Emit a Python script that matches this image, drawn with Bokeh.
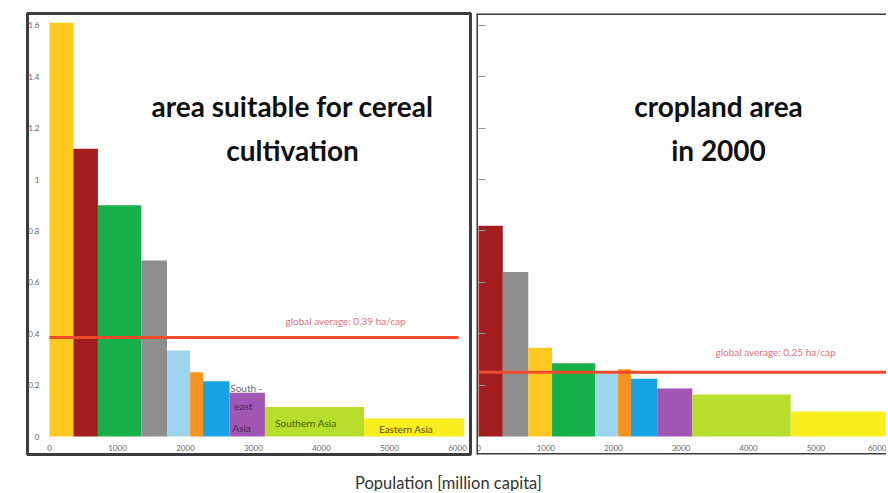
import numpy as np
from bokeh.plotting import figure
from bokeh.layouts import row, column
from bokeh.models import (ColumnDataSource, Range1d, FixedTicker, CustomJSTickFormatter,
                          Span, Label)
from bokeh.core.properties import value
from bokeh.embed import file_html
from bokeh.resources import INLINE

# ---------------- data ----------------
regions = ["Region 1", "Region 2", "Region 3", "Region 4", "Region 5", "Region 6",
           "Region 7", "South-east Asia", "Southern Asia", "Eastern Asia"]
colors = ["#FDC920", "#A31D1F", "#17B04B", "#8E8E8E", "#9DD5EF", "#F7921E",
          "#17A3E6", "#A257B5", "#B7DE2B", "#FAEE1E"]
population = [352, 360, 638, 378, 340, 190, 390, 520, 1458, 1470]      # million capita
suitable_area = [1.61, 1.12, 0.90, 0.685, 0.335, 0.25, 0.215, 0.17, 0.115, 0.07]  # ha/cap
cropland_area = [0.345, 0.82, 0.285, 0.64, 0.245, 0.262, 0.225, 0.187, 0.163, 0.097]  # ha/cap
cropland_order = [1, 3, 0, 2, 4, 5, 6, 7, 8, 9]
avg_suitable = 0.385
avg_cropland = 0.25
avg_suitable_text = "global average: 0.39 ha/cap"
avg_cropland_text = "global average: 0.25 ha/cap"
x_ticks = [0, 1000, 2000, 3000, 4000, 5000, 6000]
y_ticks = [0, 0.2, 0.4, 0.6, 0.8, 1.0, 1.2, 1.4, 1.6]
title_left = ["area suitable for cereal", "cultivation"]
title_right = ["cropland area", "in 2000"]
x_label = "Population  [million capita]"

FONT = "Lato"
BORDER = "#3c3c3c"
AVG_COLOR = "#EF4A2A"
Y0, Y1 = -0.070, 1.646


def bar_source(order, heights):
    pop = np.array([population[i] for i in order], dtype=float)
    right = np.cumsum(pop)
    left = right - pop
    return ColumnDataSource(dict(left=left, right=right,
                                 top=[heights[i] for i in order],
                                 color=[colors[i] for i in order],
                                 name=[regions[i] for i in order]))


def make_panel(width, x_start, x_end, border_left, border_right):
    p = figure(width=width, height=456,
               x_range=Range1d(x_start, x_end), y_range=Range1d(Y0, Y1),
               output_backend="svg", toolbar_location=None,
               min_border_left=border_left, min_border_right=border_right,
               min_border_top=13, min_border_bottom=2)
    p.grid.visible = False
    p.background_fill_color = "white"
    p.border_fill_color = "white"
    for ax in (p.xaxis, p.yaxis):
        ax.fixed_location = 0
        ax.axis_line_color = None
        ax.minor_tick_line_color = None
        ax.major_label_text_font = FONT
        ax.major_label_text_font_size = "8px"
        ax.major_label_text_color = "#666666"
    p.xaxis.ticker = FixedTicker(ticks=x_ticks)
    p.xaxis.major_tick_line_color = None
    p.xaxis.major_label_standoff = 2
    p.yaxis.ticker = FixedTicker(ticks=y_ticks)
    p.yaxis.formatter = CustomJSTickFormatter(code="return String(Math.round(tick*10)/10);")
    return p


def add_title(p, lines, x):
    ys = [1.288, 1.113]
    for t, y in zip(lines, ys):
        p.add_layout(Label(x=x, y=y, text=t, text_align="center",
                           text_baseline="middle", text_font=FONT,
                           text_font_size="28px", text_font_style="bold",
                           text_color="#111111"))


# ---------------- left panel ----------------
src_l = bar_source(list(range(len(population))), suitable_area)
p1 = make_panel(472, -323.5, 6191, 27, 2)
p1.outline_line_color = BORDER
p1.outline_line_width = 3
p1.yaxis.major_tick_line_color = None
p1.yaxis.major_label_standoff = 4
p1.quad(left="left", right="right", bottom=0, top="top", fill_color="color",
        line_color=None, source=src_l)
total = float(np.sum(population))
p1.line(x=[0, total - 80], y=[avg_suitable, avg_suitable], line_color=AVG_COLOR, line_width=3)
p1.add_layout(Label(x=3470, y=avg_suitable + 0.066, text=avg_suitable_text,
                    text_font=FONT, text_font_size="10px", text_color="#E8707A",
                    text_baseline="middle"))
add_title(p1, title_left, 3574)

# region labels inside bars (positions derived from bar edges)
lefts = src_l.data["left"]
se, sa, ea = 7, 8, 9
lab = dict(
    x=[lefts[se] + 10, lefts[se] + 70, lefts[se] + 40, lefts[sa] + 150, lefts[ea] + 220],
    y=[0.19, 0.117, 0.035, 0.054, 0.031],
    text=["South -", "east", "Asia", "Southern Asia", "Eastern Asia"],
    color=["#6E6E6E", "#4A1E5A", "#4A1E5A", "#4A5A10", "#5A4A00"],
)
p1.text(x="x", y="y", text="text", text_color="color", text_font=value(FONT),
        text_font_size="10px", text_baseline="middle", source=ColumnDataSource(lab))

# ---------------- right panel ----------------
src_r = bar_source(cropland_order, cropland_area)
x0_r, x1_r = -29.6, 6045
p2 = make_panel(414, x0_r, x1_r, 4, 0)
p2.outline_line_color = None
p2.yaxis.major_tick_line_color = "#999999"
p2.yaxis.major_tick_in = 7
p2.yaxis.major_tick_out = 0
p2.yaxis.major_label_text_color = None
p2.quad(left="left", right="right", bottom=0, top="top", fill_color="color",
        line_color=None, source=src_r)
p2.line(x=[0, total + 200], y=[avg_cropland, avg_cropland], line_color=AVG_COLOR, line_width=3)
p2.add_layout(Label(x=3511, y=avg_cropland + 0.077, text=avg_cropland_text,
                    text_font=FONT, text_font_size="10px", text_color="#E8707A",
                    text_baseline="middle"))
add_title(p2, title_right, 3556)
p2.add_layout(Span(location=x0_r, dimension="height", line_color=BORDER, line_width=3))
p2.add_layout(Span(location=Y1, dimension="width", line_color=BORDER, line_width=3))
p2.add_layout(Span(location=Y0, dimension="width", line_color=BORDER, line_width=3))

# ---------------- common x label ----------------
p3 = figure(width=886, height=35, x_range=Range1d(0, 886), y_range=Range1d(0, 35),
            x_axis_type=None, y_axis_type=None, output_backend="svg",
            toolbar_location=None, min_border=0)
p3.grid.visible = False
p3.outline_line_color = None
p3.add_layout(Label(x=450, y=9, text=x_label, text_align="center",
                    text_baseline="middle", text_font=FONT, text_font_size="16.5px",
                    text_color="#333333"))

layout = column(row(p1, p2), p3)
open("out.html", "w").write(file_html(layout, INLINE))
